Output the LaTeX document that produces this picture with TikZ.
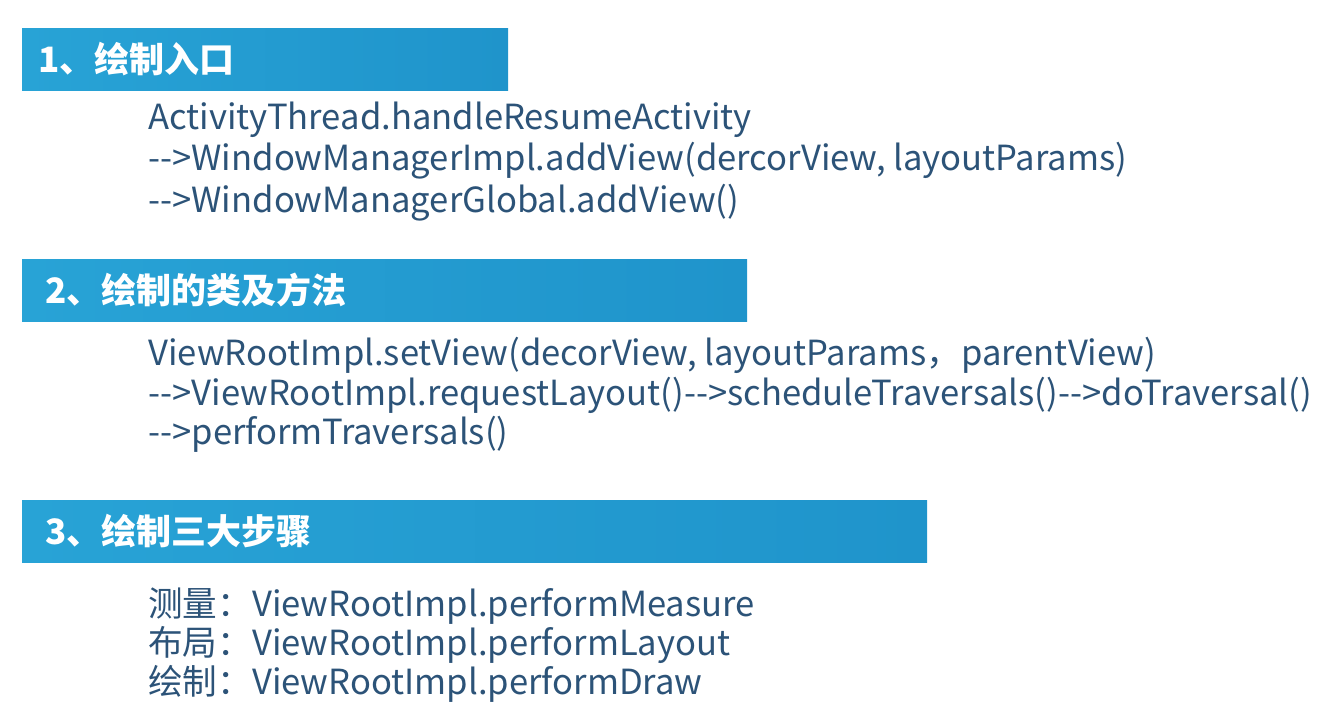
\documentclass[tikz,border=0pt]{standalone}
\usepackage{fontspec}
\setmainfont{Noto Sans CJK SC}
\usepackage{tikz}

\definecolor{barblue}{RGB}{40,163,214}
\definecolor{bardark}{RGB}{31,148,203}
\definecolor{codeblue}{RGB}{44,83,120}

\begin{document}
\begin{tikzpicture}[x=0.02cm,y=-0.02cm,
	bar/.style={left color=barblue,right color=bardark,draw=none},
	head/.style={anchor=base west,inner sep=0pt,text=white,font=\fontsize{19.9}{24}\selectfont\bfseries},
	code/.style={anchor=base west,inner sep=0pt,text=codeblue,font=\fontsize{19.7}{24}\selectfont}]
	
	\useasboundingbox (0,0) rectangle (1339,711);
	
	% 1
	\path[bar] (22,28) rectangle (508,90);
	\node[head] (h1) at (38,72) {1、绘制入口};
	
	\node[code] (a1) at (148,129) {ActivityThread.handleResumeActivity};
	\node[code] (a2) at (148,170.5) {-{}->WindowManagerImpl.addView(dercorView, layoutParams)};
	\node[code] (a3) at (148,212) {-{}->WindowManagerGlobal.addView()};
	
	% 2
	\path[bar] (22,259) rectangle (747,321);
	\node[head] (h2) at (45,303) {2、绘制的类及方法};
	
	\node[code] (b1) at (148,365) {ViewRootImpl.setView(decorView, layoutParams，parentView)};
	\node[code] (b2) at (148,405) {-{}->ViewRootImpl.requestLayout()-{}->scheduleTraversals()-{}->doTraversal()};
	\node[code] (b3) at (148,444) {-{}->performTraversals()};
	
	% 3
	\path[bar] (22,500) rectangle (927,562);
	\node[head] (h3) at (45,544) {3、绘制三大步骤};
	
	\node[code] (c1) at (148,616) {测量：ViewRootImpl.performMeasure};
	\node[code] (c2) at (148,655) {布局：ViewRootImpl.performLayout};
	\node[code] (c3) at (148,694) {绘制：ViewRootImpl.performDraw};
	
\end{tikzpicture}
\end{document}
